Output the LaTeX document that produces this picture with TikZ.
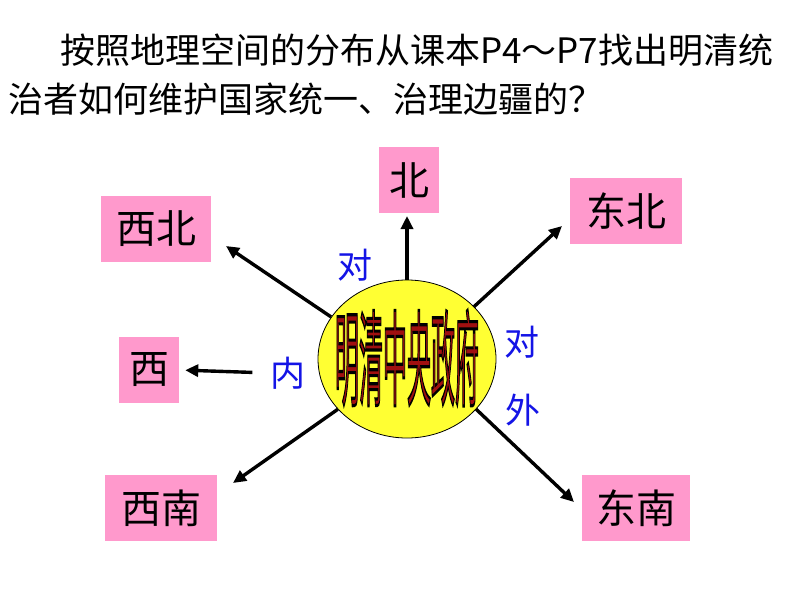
\documentclass[tikz,border=0pt]{standalone}
\usepackage{fontspec}
\setmainfont{Noto Sans CJK SC}
\usetikzlibrary{arrows.meta,shapes.geometric}
\definecolor{dirPink}{HTML}{FF99CC}
\definecolor{sunYellow}{HTML}{FFFF33}
\definecolor{labBlue}{HTML}{1414E6}
\definecolor{artRed}{HTML}{A01010}
% filled text with a black outline
\newcommand{\outlinedtext}[1]{\special{pdf:literal 2 Tr 1.2 w 0 0 0 RG}#1\special{pdf:literal 0 Tr}}

\begin{document}
\begin{tikzpicture}[x=1pt, y=-1pt,
  dirbox/.style={fill=dirPink, minimum height=66pt, inner sep=0pt,
                 font=\fontsize{40}{40}\selectfont},
  lab/.style={text=labBlue, inner sep=0pt, font=\fontsize{35}{35}\selectfont},
  arr/.style={-{Triangle[length=13pt,width=12pt]}, line width=3.4pt},
  art/.style={xscale=0.6, yscale=2.6, inner sep=0pt, font=\fontsize{40}{40}\selectfont}]

\useasboundingbox (0,0) rectangle (794,596);

% question
\node[anchor=west, inner sep=0pt, font=\fontsize{35}{35}\selectfont] (q1) at (60,50)
  {按照地理空间的分布从课本P4～P7找出明清统};
\node[anchor=west, inner sep=0pt, font=\fontsize{35}{35}\selectfont] (q2) at (8,99)
  {治者如何维护国家统一、治理边疆的？};

% centre
\node[ellipse, draw, fill=sunYellow, line width=0.8pt,
      minimum width=178pt, minimum height=158pt] (c) at (407,359) {};
\node[art, text=artRed] (artText) at (407,358) {\outlinedtext{明清中央政府}};

% directions
\node[dirbox, minimum width=60pt] (n) at (409,180) {北};
\node[dirbox, minimum width=112pt] (ne) at (626,211) {东北};
\node[dirbox, minimum width=110pt] (nw) at (156,229) {西北};
\node[dirbox, minimum width=60pt] (w) at (149,370) {西};
\node[dirbox, minimum width=112pt] (sw) at (161,508) {西南};
\node[dirbox, minimum width=108pt] (se) at (636,508) {东南};

\node[lab] (dui1) at (355,265) {对};
\node[lab] (dui2) at (522,342) {对};
\node[lab] (nei) at (288,373) {内};
\node[lab] (wai) at (523,410) {外};

\coordinate (tipN) at (407,216);
\coordinate (tipNE) at (562,226);
\coordinate (tipNW) at (226,246);
\coordinate (tipSW) at (233,483);
\coordinate (tipSE) at (574,502);

\draw[arr] (c.90) -- (tipN);
\draw[arr] (c.38) -- (tipNE);
\draw[arr] (c.151) -- (tipNW);
\draw[arr, shorten <=18pt, shorten >=6pt] (nei.west) -- (w.east);
\draw[arr] (c.216) -- (tipSW);
\draw[arr] (c.-36) -- (tipSE);
\end{tikzpicture}
\end{document}
